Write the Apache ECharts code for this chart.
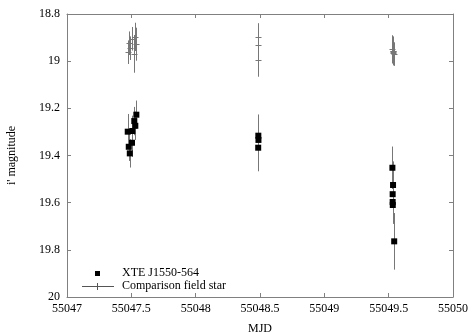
<!DOCTYPE html>
<html><head><meta charset="utf-8">
<script src="https://cdn.jsdelivr.net/npm/echarts@6/dist/echarts.min.js"></script>
<style>html,body{margin:0;padding:0;background:#fff}#c{width:474px;height:332px}</style>
</head><body><div id="c"></div>
<script>
const xTicks = [55047, 55047.5, 55048, 55048.5, 55049, 55049.5, 55050];
const yTicks = [18.8, 19, 19.2, 19.4, 19.6, 19.8, 20];

const xteTime = [55047.472, 55047.480, 55047.488, 55047.505, 55047.508, 55047.523, 55047.531, 55047.539,
                 55048.487, 55048.488, 55048.486,
                 55049.529, 55049.534, 55049.531, 55049.531, 55049.532, 55049.543];
const xteMag  = [19.299, 19.363, 19.391, 19.346, 19.296, 19.254, 19.274, 19.227,
                 19.316, 19.334, 19.367,
                 19.452, 19.525, 19.564, 19.597, 19.610, 19.764];
const xteErr  = [0.075, 0.06, 0.06, 0.06, 0.065, 0.06, 0.06, 0.06,
                 0.09, 0.10, 0.10,
                 0.09, 0.10, 0.08, 0.09, 0.08, 0.12];

const compTime = [55047.472, 55047.480, 55047.488, 55047.505, 55047.508, 55047.523, 55047.531, 55047.539,
                  55048.487, 55048.488, 55048.486,
                  55049.529, 55049.534, 55049.531, 55049.531, 55049.532, 55049.543];
const compMag  = [18.962, 18.924, 18.945, 18.908, 18.905, 18.969, 18.897, 18.928,
                  18.899, 18.931, 18.996,
                  18.950, 18.960, 18.955, 18.965, 18.958, 18.970];
const compErr  = [0.05, 0.05, 0.05, 0.04, 0.05, 0.08, 0.06, 0.07,
                  0.06, 0.06, 0.07,
                  0.06, 0.05, 0.06, 0.05, 0.06, 0.05];

const FONT = 'Liberation Serif';
const GRID = {left: 67, right: 21, top: 14, bottom: 35, outerBoundsMode: 'none', containLabel: false};

function zip3(a, b, c) { return a.map((v, i) => [v, b[i], c[i]]); }

function errRender(color, capW) {
  return function (params, api) {
    const x = api.value(0), y = api.value(1), e = api.value(2);
    const p = api.coord([x, y]);
    const lo = api.coord([x, y - e]);
    const hi = api.coord([x, y + e]);
    const px = Math.round(p[0]) + 0.5, py = Math.round(p[1]) + 0.5;
    const ch = [{type: 'line', shape: {x1: px, y1: lo[1], x2: px, y2: hi[1]},
                 style: {stroke: color, lineWidth: 1}}];
    if (capW) ch.push({type: 'line', shape: {x1: px - capW, y1: py, x2: px + capW, y2: py},
                       style: {stroke: color, lineWidth: 1}});
    return {type: 'group', children: ch};
  };
}

const fmtX = v => String(+(+v).toFixed(1));
const fmtY = v => String(+(+v).toFixed(1));
const axisCommon = {
  axisLine: {show: true, lineStyle: {color: '#808080', width: 1}},
  axisTick: {show: true, inside: true, length: 4, lineStyle: {color: '#808080'}},
  splitLine: {show: false}
};

const chart = echarts.init(document.getElementById('c'), null, {renderer: 'canvas'});
chart.setOption({
  animation: false,
  backgroundColor: '#fff',
  grid: GRID,
  xAxis: [
    Object.assign({type: 'value', min: xTicks[0], max: xTicks[xTicks.length - 1], interval: 0.5,
      name: 'MJD', nameLocation: 'middle', nameGap: 26,
      nameTextStyle: {fontFamily: FONT, fontSize: 12, color: '#000'},
      axisLabel: {formatter: fmtX, fontFamily: FONT, fontSize: 12, color: '#000', margin: 6}}, axisCommon),
    Object.assign({type: 'value', position: 'top', min: xTicks[0], max: xTicks[xTicks.length - 1], interval: 0.5,
      axisLabel: {show: false}}, axisCommon)
  ],
  yAxis: [
    Object.assign({type: 'value', inverse: true, min: yTicks[0], max: yTicks[yTicks.length - 1], interval: 0.2,
      name: "i' magnitude", nameLocation: 'middle', nameGap: 49,
      nameTextStyle: {fontFamily: FONT, fontSize: 12, color: '#000'},
      axisLabel: {formatter: fmtY, fontFamily: FONT, fontSize: 12, color: '#000', margin: 7}}, axisCommon),
    Object.assign({type: 'value', position: 'right', inverse: true, min: yTicks[0], max: yTicks[yTicks.length - 1], interval: 0.2,
      axisLabel: {show: false}}, axisCommon)
  ],
  series: [
    {type: 'custom', name: 'Comparison field star', renderItem: errRender('#777', 3),
     data: zip3(compTime, compMag, compErr), z: 2},
    {type: 'custom', name: 'XTE err', renderItem: errRender('#777', 0),
     data: zip3(xteTime, xteMag, xteErr), z: 2},
    {type: 'scatter', name: 'XTE J1550-564', symbol: 'rect', symbolSize: 6,
     itemStyle: {color: '#000', opacity: 1}, data: xteTime.map((t, i) => [t, xteMag[i]]), z: 3}
  ],
  graphic: [
    {type: 'rect', left: 95, top: 271, shape: {width: 5, height: 5}, style: {fill: '#000'}},
    {type: 'text', left: 122, top: 267, style: {text: 'XTE J1550-564', font: '12px ' + FONT, fill: '#000'}},
    {type: 'line', shape: {x1: 82, y1: 286.5, x2: 114, y2: 286.5}, style: {stroke: '#555', lineWidth: 1}},
    {type: 'line', shape: {x1: 97.5, y1: 283, x2: 97.5, y2: 290}, style: {stroke: '#555', lineWidth: 1}},
    {type: 'text', left: 122, top: 280, style: {text: 'Comparison field star', font: '12px ' + FONT, fill: '#000'}}
  ]
});
</script></body></html>
